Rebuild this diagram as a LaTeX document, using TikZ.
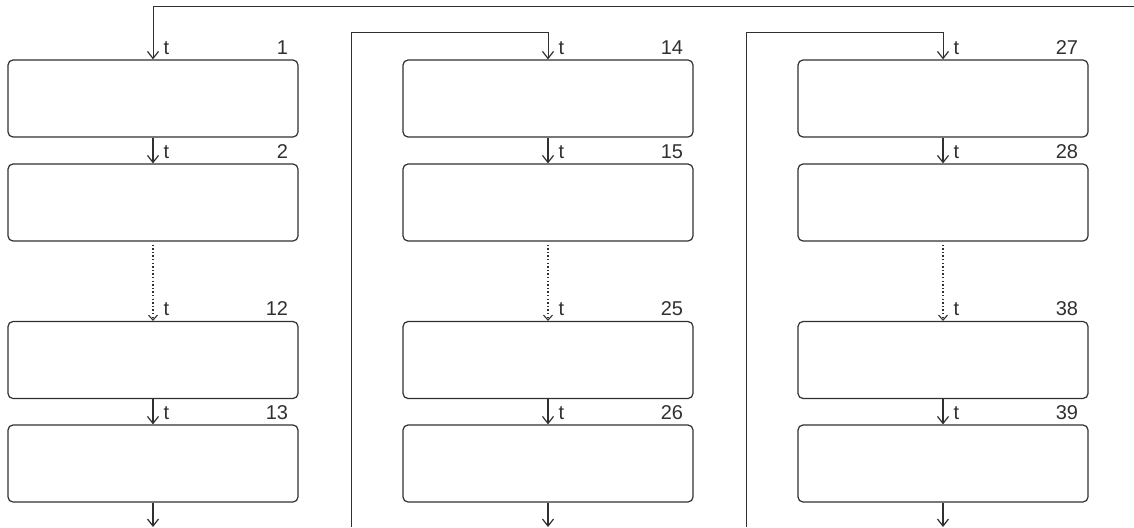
\documentclass[tikz,border=0pt]{standalone}
\usepackage{fontspec}
\setmainfont{Liberation Sans}
\usetikzlibrary{arrows.meta}
\definecolor{ink}{HTML}{303030}
\begin{document}
\begin{tikzpicture}[x=1pt,y=-1pt,
  line width=1.2pt, draw=ink,
  stepbox/.style={draw=ink, rounded corners=5pt, minimum width=290pt, minimum height=77pt, inner sep=0pt},
  flow/.style={draw=ink, -{Straight Barb[length=7pt,width=11pt,line width=1.2pt]}},
  dotflow/.style={draw=ink, line width=1.3pt, dash pattern=on 1.4pt off 2.2pt, -{Straight Barb[length=5pt,width=9pt,line width=1.1pt,sep=0pt]}},
  tlab/.style={anchor=base west, inner sep=0pt, font=\fontsize{20}{20}\selectfont, text=ink},
  nlab/.style={anchor=base east, inner sep=0pt, font=\fontsize{20}{20}\selectfont, text=ink}]
\useasboundingbox (0,0) rectangle (1134,527);
% columns
\foreach \c/\x/\na/\nb/\nc/\nd in {1/153/1/2/12/13, 2/548/14/15/25/26, 3/943/27/28/38/39}{
  \node[stepbox] (b\na) at (\x,98.5) {};
  \node[stepbox] (b\nb) at (\x,202.5) {};
  \node[stepbox] (b\nc) at (\x,360) {};
  \node[stepbox] (b\nd) at (\x,463.5) {};
  \draw[flow] (b\na.south) -- (b\nb.north);
  \draw[dotflow] ([yshift=-3pt]b\nb.south) -- (b\nc.north);
  \draw[flow] (b\nc.south) -- (b\nd.north);
  \coordinate (e\c) at (\x,527);
  \draw[flow] (b\nd.south) -- (e\c);
  \foreach \n in {\na,\nb,\nc,\nd}{
    \node[tlab] (t\n) at ([xshift=10pt,yshift=5pt]b\n.north) {t};
    \node[nlab] (n\n) at ([xshift=-10pt,yshift=5pt]b\n.north east) {\n};
  }
}
% incoming flows
\coordinate (s1) at (1134,7);
\coordinate (c1) at (153,7);
\draw[flow,line width=1pt] (s1) -- (c1) -- (b1.north);
\coordinate (s2) at (351,527);
\coordinate (k2a) at (351,33);
\coordinate (k2b) at (548,33);
\draw[flow,line width=1pt] (s2) -- (k2a) -- (k2b) -- (b14.north);
\coordinate (s3) at (746,527);
\coordinate (k3a) at (746,33);
\coordinate (k3b) at (943,33);
\draw[flow,line width=1pt] (s3) -- (k3a) -- (k3b) -- (b27.north);
\end{tikzpicture}
\end{document}
